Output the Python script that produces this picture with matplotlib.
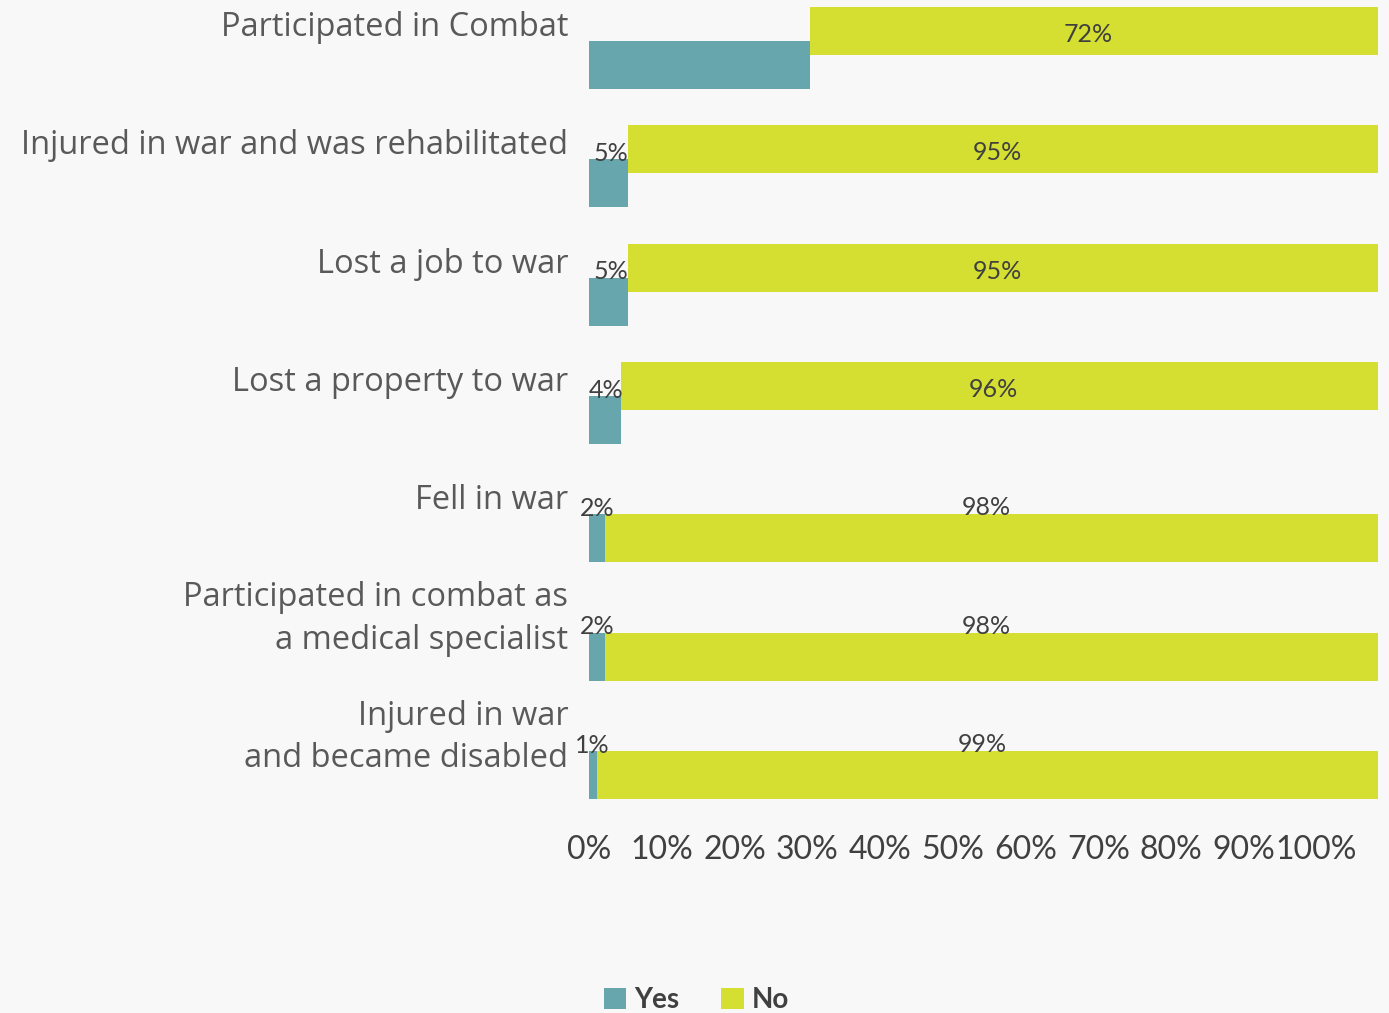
import matplotlib
matplotlib.use("Agg")
import matplotlib.pyplot as plt
import numpy as np

# data
categories = [
    "Participated in Combat",
    "Injured in war and was rehabilitated",
    "Lost a job to war",
    "Lost a property to war",
    "Fell in war",
    "Participated in combat as\na medical specialist",
    "Injured in war\nand became disabled",
]
yes_values = [28, 5, 5, 4, 2, 2, 1]
no_values = [72, 95, 95, 96, 98, 98, 99]
yes_labels = ["", "5%", "5%", "4%", "2%", "2%", "1%"]
no_labels = ["72%", "95%", "95%", "96%", "98%", "98%", "99%"]
tick_values = [0, 10, 20, 30, 40, 50, 60, 70, 80, 90, 100]

teal = "#67a6ac"
lime = "#d4df32"
bg = "#f8f8f8"

plt.rcParams["font.family"] = ["Lato", "DejaVu Sans"]

fig = plt.figure(figsize=(13.89, 10.13), dpi=100, facecolor=bg)
ax = fig.add_axes([589 / 1389, 1 - 799 / 1013, 789 / 1389, 792 / 1013])
ax.set_facecolor(bg)

n = len(categories)
rows = np.arange(n)
off = 0.1436      # half distance between the two slots of a row
h = 0.4056        # bar height

upper = rows - off
lower = rows + off
# in the first four rows the "No" bar sits in the upper slot,
# in the last three it shares the slot of the "Yes" bar
no_y = np.where(rows < 4, upper, lower)

ax.barh(lower, yes_values, height=h, color=teal, label="Yes")
ax.barh(no_y, no_values, left=yes_values, height=h, color=lime, label="No")

for i in range(n):
    if yes_labels[i]:
        ax.text(yes_values[i] * 0.6 - 0.2, upper[i] + 0.035, yes_labels[i],
                ha="center", va="center", fontsize=18, color="#404040")
    ax.text((yes_values[i] + 100) / 2 - 0.7, upper[i] + 0.03, no_labels[i],
            ha="center", va="center", fontsize=18, color="#404040")
    ax.text(-2.6, upper[i] - 0.03, categories[i], ha="right", va="center",
            fontsize=23.5, color="#595959", linespacing=1.38,
            family=["Open Sans", "DejaVu Sans"])

ax.set_xlim(0, 100)
ax.set_ylim(n - 1 + off + h / 2, -off - h / 2)

# tick labels in the original are squeezed together to the left
tick_scale = 0.922
ax.set_xticks([v * tick_scale for v in tick_values])
ax.set_xticklabels([f"{v}%" for v in tick_values], fontsize=23, color="#404040")
ax.tick_params(axis="x", length=0, pad=26)
ax.set_yticks([])
for s in ax.spines.values():
    s.set_visible(False)

fig.legend(loc="upper left", bbox_to_anchor=(604 / 1389, 1 - 987 / 1013),
           ncol=2, frameon=False, prop={"weight": "bold", "size": 20},
           handlelength=0.8, handleheight=0.8, handletextpad=0.3,
           columnspacing=1.5, borderpad=0, borderaxespad=0, labelcolor="#404040")

fig.savefig("out.png", dpi=100, facecolor=bg)
